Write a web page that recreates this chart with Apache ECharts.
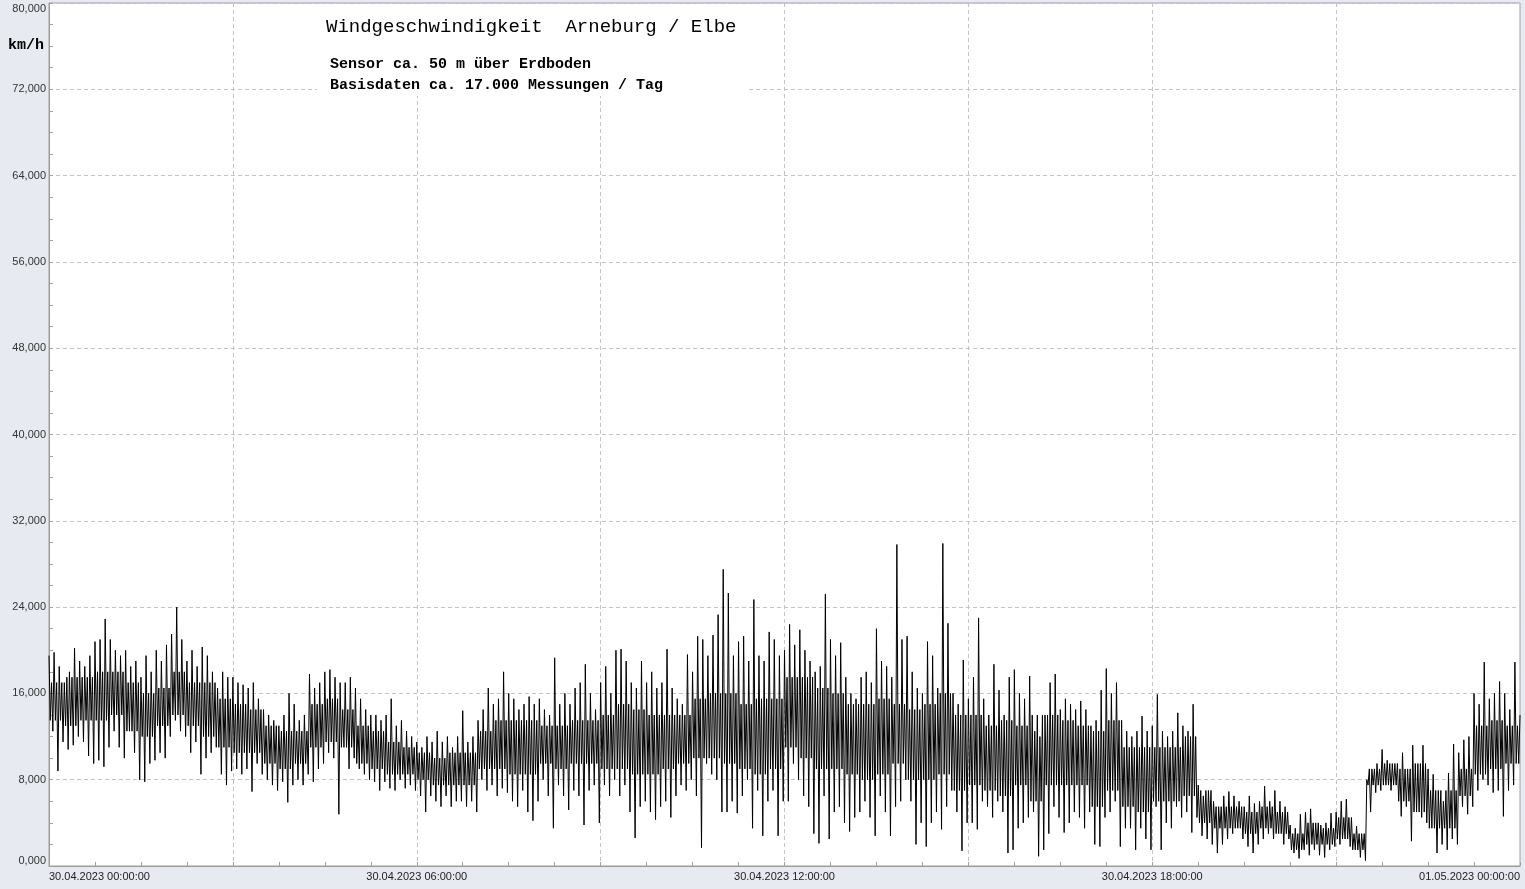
<!DOCTYPE html>
<html><head><meta charset="utf-8">
<script src="https://cdn.jsdelivr.net/npm/echarts@6/dist/echarts.min.js"></script>
<style>html,body{margin:0;padding:0;background:#e8eaf1;}#c{width:1525px;height:889px;}</style>
</head><body><div id="c"></div>
<script>
// ---- data (km/h) ----
// 5-minute buckets: highest and lowest excursion in each bucket
const stepMinutes = 5;
const peakKmh = [
  19.5,19.8,18.5,17.0,18.0,20.2,19.0,18.5,19.5,20.8,21.0,22.9, // 00h
  21.0,20.0,19.5,20.0,18.5,19.0,17.5,19.5,18.0,20.0,19.0,20.5, // 01h
  21.5,24.0,21.0,19.0,20.0,18.5,20.3,19.5,18.0,16.5,18.0,17.5, // 02h
  17.5,17.0,16.8,16.5,17.0,15.5,14.5,14.0,13.5,13.0,14.0,16.0, // 03h
  15.0,13.5,14.0,17.8,16.5,17.0,18.0,18.2,17.5,17.0,17.0,17.5, // 04h
  16.5,15.5,14.5,14.0,14.0,13.5,14.0,15.5,13.0,13.5,12.5,12.0, // 05h
  11.5,11.0,12.0,11.5,12.5,11.5,12.0,11.0,12.0,14.4,11.5,12.0, // 06h
  13.5,14.5,16.5,15.0,15.5,18.0,16.0,15.5,14.5,15.0,15.7,15.0, // 07h
  15.5,14.5,14.0,19.3,15.0,16.0,15.0,16.5,17.0,18.7,16.0,14.5, // 08h
  17.0,18.5,16.0,20.0,20.1,19.0,17.0,16.5,19.0,17.0,18.0,16.5, // 09h
  17.0,20.1,16.5,15.5,15.0,19.6,18.0,21.3,21.0,19.5,21.4,23.3, // 10h
  27.5,25.3,19.5,20.8,21.3,19.0,24.7,19.5,19.0,21.7,21.0,19.5, // 11h
  20.0,22.4,20.5,21.9,20.0,19.0,18.0,18.5,25.2,21.0,19.5,20.7, // 12h
  17.5,16.0,15.5,17.5,18.0,17.0,22.0,19.0,18.5,17.5,29.8,21.0, // 13h
  21.3,18.0,16.5,16.0,20.8,19.5,16.5,29.9,22.5,16.0,15.0,19.1, // 14h
  15.5,17.5,23.0,15.5,14.0,18.7,16.3,14.0,17.5,18.2,16.0,15.5, // 15h
  17.6,12.5,12.0,14.0,17.0,17.8,14.5,15.5,15.0,14.5,15.3,14.5, // 16h
  13.0,13.5,16.3,18.3,16.0,17.0,13.5,12.5,12.0,12.5,13.9,12.5, // 17h
  13.0,15.9,12.5,12.0,12.5,14.2,13.0,12.5,15.0,7.5,6.5,7.0,    // 18h
  6.0,5.5,6.5,6.9,6.5,6.0,5.5,6.5,5.8,6.0,7.4,6.0,             // 19h
  7.0,6.0,5.5,3.8,3.5,4.8,5.0,5.3,4.0,3.8,4.0,4.9,             // 20h
  5.0,6.0,6.2,4.5,3.7,3.0,8.0,9.0,9.5,10.8,9.8,9.5,            // 21h
  9.5,10.5,9.0,11.2,9.5,11.2,9.0,8.5,7.0,6.0,8.6,11.3,         // 22h
  10.5,11.7,12.0,16.0,15.0,18.9,15.5,16.0,17.1,16.0,14.5,18.9  // 23h
];
const troughKmh = [
  12.5,8.8,11.5,10.8,11.2,12.0,11.5,10.2,9.5,9.8,9.2,11.0,   // 00h
  12.5,11.0,10.0,12.5,10.5,8.0,7.8,9.5,9.8,10.5,10.0,12.0,   // 01h
  13.5,12.5,12.0,10.5,11.5,8.5,10.0,10.5,11.0,8.5,7.5,8.8,   // 02h
  9.0,8.5,9.0,6.9,9.5,8.5,8.0,7.5,7.0,7.8,5.9,7.5,           // 03h
  8.0,7.5,8.5,7.8,9.0,9.5,10.5,10.0,4.8,11.0,9.0,10.0,       // 04h
  9.0,8.5,8.0,7.8,7.0,7.8,7.2,7.0,8.0,7.2,7.5,7.0,           // 05h
  6.5,5.0,6.5,6.0,5.5,6.5,5.5,6.0,6.0,5.5,6.0,5.0,           // 06h
  8.0,7.0,7.5,6.5,7.2,6.8,6.0,5.5,7.0,5.0,4.2,6.0,           // 07h
  8.0,6.5,3.5,7.5,6.5,5.2,7.0,6.5,3.8,7.0,7.5,4.0,           // 08h
  7.5,6.5,8.0,6.5,7.5,5.0,2.6,5.5,6.0,5.0,4.3,5.5,           // 09h
  6.0,4.5,6.5,7.5,7.0,8.0,6.5,1.7,9.5,8.5,8.0,5.0,           // 10h
  5.0,6.0,4.9,6.5,8.0,3.5,7.0,2.8,6.0,7.0,2.8,6.0,           // 11h
  6.0,9.5,8.0,6.5,5.5,3.0,2.1,6.5,2.5,5.0,5.5,4.0,           // 12h
  3.2,4.5,5.0,6.0,4.5,2.8,6.5,5.0,2.8,5.5,6.0,8.0,           // 13h
  6.0,2.0,4.0,1.8,4.0,5.0,3.4,5.5,7.0,5.0,1.4,4.0,           // 14h
  4.0,3.4,6.0,5.5,4.5,6.0,5.0,1.2,1.5,3.5,4.0,4.5,           // 15h
  5.0,0.9,1.5,3.0,5.5,4.5,3.1,4.0,5.0,4.5,3.5,5.0,           // 16h
  2.0,1.8,4.5,5.0,6.0,1.8,3.5,3.5,1.5,3.5,2.5,1.5,           // 17h
  5.5,1.5,4.0,3.5,5.5,4.5,5.0,3.1,4.5,2.8,2.5,2.0,           // 18h
  1.2,2.0,2.5,3.0,3.5,2.5,1.8,1.2,2.0,2.5,3.0,2.5,           // 19h
  3.0,2.0,2.5,1.2,0.7,1.5,1.0,1.5,1.0,0.8,1.5,1.8,           // 20h
  2.0,2.5,1.8,1.5,0.8,0.5,5.0,6.8,7.0,7.5,7.0,7.5,           // 21h
  4.6,5.5,2.3,5.0,4.5,4.0,3.5,1.2,2.0,1.5,2.5,2.0,           // 22h
  5.5,4.8,5.5,7.0,8.0,7.5,6.8,7.0,4.6,7.0,7.5,9.5            // 23h
];
// 15-minute readings of the dense central band (upper / lower edge)
const coreStepMinutes = 15;
const coreTopKmh = [
  17.0,17.5,17.5,18.0, 18.0,17.0,16.0,16.5, 18.0,17.0,17.0,15.5, 15.0,14.5,13.0,12.5,
  12.5,15.0,15.5,14.5, 13.0,12.5,11.5,11.0, 10.5,10.0,10.5,10.5, 12.5,13.5,13.5,13.5,
  13.0,13.0,13.5,13.5, 14.0,15.0,14.5,14.0, 14.0,14.0,15.5,16.0, 16.0,15.0,15.5,15.5,
  17.5,17.5,16.5,16.0, 15.0,15.0,15.5,15.0, 14.5,15.0,16.0,14.0, 14.0,13.0,13.5,13.0,
  14.0,14.0,13.5,13.0, 12.5,13.5,11.0,11.0, 11.0,11.0,12.0,7.0,  5.5,5.5,5.0,5.5,
  5.0,3.0,4.0,3.5,     4.5,3.0,9.0,9.5,     9.0,9.5,7.0,7.0,     9.0,13.0,13.5,13.0
];
const coreBottomKmh = [
  13.5,13.0,13.5,13.5, 14.0,12.5,12.0,13.0, 14.0,13.0,12.0,11.0, 10.5,10.5,9.5,9.0,
  9.5,11.0,11.5,11.0,  9.5,9.0,8.5,8.5,     8.0,7.5,7.5,7.5,     9.0,9.0,8.5,8.5,
  9.5,9.0,9.5,9.5,     9.0,9.0,8.5,8.5,     9.0,9.5,10.0,10.0,   9.5,9.0,8.5,9.0,
  11.0,10.0,9.0,9.0,   8.5,8.0,8.5,9.5,     8.0,8.0,8.5,7.0,     7.5,7.0,6.5,7.5,
  6.0,7.5,7.5,7.5,     5.5,7.0,5.5,5.0,     6.0,6.0,6.5,4.0,     3.5,3.5,3.0,3.5,
  3.0,1.5,2.0,2.0,     2.5,1.5,7.5,7.5,     6.0,5.0,3.5,3.5,     6.5,8.5,9.0,9.5
];
const endKmh = 14.0;
const xTickLabels = ['30.04.2023 00:00:00','30.04.2023 06:00:00','30.04.2023 12:00:00','30.04.2023 18:00:00','01.05.2023 00:00:00'];
const titleText = 'Windgeschwindigkeit  Arneburg / Elbe';
const subLines = ['Sensor ca. 50 m über Erdboden', 'Basisdaten ca. 17.000 Messungen / Tag'];
const unitText = 'km/h';

// interleave the readings in time order: peak, band low, band high, trough
const seriesData = [];
peakKmh.forEach((p, i) => {
  const t = i * stepMinutes;
  const c = Math.floor(t / coreStepMinutes);
  seriesData.push([t, p]);
  seriesData.push([t + stepMinutes * 0.25, coreBottomKmh[c]]);
  seriesData.push([t + stepMinutes * 0.5, coreTopKmh[c]]);
  seriesData.push([t + stepMinutes * 0.75, troughKmh[i]]);
});
seriesData.push([24 * 60, endKmh]);

const chart = echarts.init(document.getElementById('c'), null, {renderer: 'canvas'});
const mono = '"Liberation Mono", "DejaVu Sans Mono", monospace';
chart.setOption({
  animation: false,
  backgroundColor: '#e8eaf1',
  grid: {left: 49, top: 3, right: 5, bottom: 23, show: true, backgroundColor: '#ffffff', borderColor: '#a0a0a0', borderWidth: 1},
  xAxis: {
    type: 'value', min: 0, max: 1440, interval: 180,
    axisLine: {lineStyle: {color: '#9a9a9a'}},
    axisTick: {show: true, inside: true, length: 4, lineStyle: {color: '#a0a0a0'}},
    minorTick: {show: true, splitNumber: 4, length: 4, lineStyle: {color: '#a0a0a0'}},
    splitLine: {show: true, lineStyle: {type: [4, 3], color: '#c4c4c4'}},
    axisLabel: {
      fontSize: 11, color: '#222', margin: 5, fontFamily: '"Liberation Sans", Arial, sans-serif',
      showMinLabel: true, showMaxLabel: true, hideOverlap: false,
      alignMinLabel: 'left', alignMaxLabel: 'right',
      formatter: v => (v % 360 === 0 ? xTickLabels[v / 360] : '')
    }
  },
  yAxis: {
    type: 'value', min: 0, max: 80, interval: 8,
    axisLine: {show: true, lineStyle: {color: '#9a9a9a'}},
    axisTick: {show: true, inside: true, length: 4, lineStyle: {color: '#a0a0a0'}},
    minorTick: {show: true, splitNumber: 4, length: 4, lineStyle: {color: '#a0a0a0'}},
    splitLine: {show: true, lineStyle: {type: [4, 3], color: '#c4c4c4'}},
    axisLabel: {
      fontSize: 11, color: '#333', margin: 3, fontFamily: '"Liberation Sans", Arial, sans-serif',
      verticalAlignMinLabel: 'bottom', verticalAlignMaxLabel: 'top',
      formatter: v => v.toFixed(3).replace('.', ',')
    }
  },
  graphic: [
    {type: 'rect', z: 50, shape: {x: 317, y: 4, width: 432, height: 92}, style: {fill: '#ffffff'}},
    {type: 'text', z: 51, x: 326, y: 27, style: {text: titleText, fontFamily: mono, fontSize: 19, fill: '#000', verticalAlign: 'middle'}},
    {type: 'text', z: 51, x: 330, y: 64, style: {text: subLines[0], fontFamily: mono, fontSize: 15, fontWeight: 'bold', fill: '#000', verticalAlign: 'middle'}},
    {type: 'text', z: 51, x: 330, y: 85, style: {text: subLines[1], fontFamily: mono, fontSize: 15, fontWeight: 'bold', fill: '#000', verticalAlign: 'middle'}},
    {type: 'text', z: 51, x: 8, y: 45, style: {text: unitText, fontFamily: mono, fontSize: 15, fontWeight: 'bold', fill: '#000', verticalAlign: 'middle'}}
  ],
  series: [{
    type: 'line', data: seriesData, showSymbol: false, symbol: 'none',
    lineStyle: {color: '#000', width: 1}, z: 3, silent: true
  }]
});
</script>
</body></html>
